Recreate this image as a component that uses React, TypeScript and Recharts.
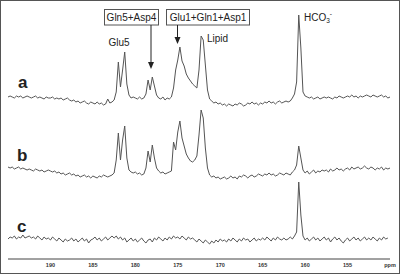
import React from 'react';
import { LineChart, Line, XAxis, YAxis } from 'recharts';

// chemical shift grid: 195 -> 150 ppm, 0.25 ppm per point
const PPM_START = 195;
const PPM_STEP = 0.25;

// spectrum a (intensity, arbitrary units)
const spectrumA = [
  3, 4, 3, 2, 4, 3, 4, 2, 3, 4,
  3, 2, 3, 4, 2, 3, 2, 1, 3, 2,
  2, 3, 1, 2, 1, 2, 0, 1, 2, 0,
  -1, 0, -2, -1, -3, -2, -1, -3, -4, -2,
  -3, -4, -2, -4, -3, -5, -4, 1, -3, -2,
  0, 8, 38, 13, 30, 48, 16, 5, 2, 3,
  2, 1, 3, 1, 2, 6, 20, 10, 23, 14,
  5, 2, 1, 3, 0, 2, 1, 3, 12, 30,
  40, 53, 39, 34, 26, 22, 19, 16, 14, 12,
  30, 64, 60, 35, 10, 1, -1, -3, -2, -4,
  -3, -5, -4, -6, -4, -5, -6, -4, -5, -3,
  -4, -6, -5, -3, -4, -2, -4, -3, -5, -3,
  -4, -2, -3, -1, -3, -2, -4, -2, -1, -3,
  -2, -1, -2, -1, 2, 6, 18, 85, 52, 8,
  4, 3, 2, 3, 1, 2, 3, 1, 2, 3,
  2, 3, 2, 1, 3, 2, 4, 3, 2, 3,
  4, 3, 5, 3, 4, 2, 4, 3, 4, 5,
  4, 3, 5, 4, 3, 4, 5, 3, 4, 2, 3,
];

// spectrum b
const spectrumB = [
  5, 4, 5, 3, 4, 5, 3, 4, 3, 2,
  3, 2, 1, 3, 2, 1, 2, 0, 1, 2,
  1, 0, 1, -1, 0, -2, -1, -3, -2, -1,
  -3, -2, -4, -3, -5, -4, -3, -5, -4, -6,
  -4, -5, -6, -4, -5, -3, -4, -5, -4, -3,
  -1, 12, 39, 12, 32, 46, 14, 2, 0, -1,
  0, -2, -1, -3, -2, 4, 21, 10, 27, 14,
  4, 1, -1, 0, -2, -1, 0, 1, 30, 22,
  40, 51, 34, 26, 18, 14, 11, 10, 12, 16,
  37, 62, 54, 24, 4, -3, -5, -4, -6, -5,
  -7, -6, -5, -7, -6, -4, -6, -5, -7, -4,
  -5, -3, -4, -6, -4, -3, -5, -4, -2, -3,
  -4, -2, -3, -1, -3, -2, -4, -3, -1, -2,
  -3, -1, -2, -3, 0, 2, 7, 26, 14, 2,
  -1, 1, -2, 0, 2, -1, 1, 0, 2, 1,
  2, 0, 3, 1, 2, 4, 2, 3, 1, 3,
  4, 2, 5, 3, 4, 5, 3, 4, 6, 4,
  3, 5, 4, 2, 4, 3, 5, 2, 4, 3, 4,
];

// spectrum c
const spectrumC = [
  0, 2, 1, 3, 0, 2, 1, 4, 1, 2,
  3, 1, 2, 0, 3, 1, -1, 2, 0, 1,
  -1, 2, 0, -2, 1, -1, -3, 0, -2, -1,
  1, -2, 0, -3, -1, 1, -2, 0, -4, -1,
  0, 2, -1, 1, -2, 0, 2, -1, 1, 3,
  1, 3, 0, 2, -1, 1, -3, -1, 1, -2,
  0, -3, -1, 1, -2, -4, -1, 0, -3, 1,
  -1, 2, 0, -2, 1, -1, 2, 0, 3, 1,
  2, 0, 3, 1, -1, 2, 0, 1, -1, -3,
  0, -2, -4, -1, -3, -5, -2, -4, -1, -3,
  0, -2, -1, -3, 0, -2, 1, -1, -3, 0,
  -2, 1, -1, 0, -3, -1, 1, -2, 0, -1,
  1, -1, 2, 0, -2, 1, -1, 2, 0, -1,
  1, -1, 0, 2, 0, 3, 7, 57, 24, 3,
  -1, 1, -2, 0, 2, -1, 1, -2, 0, 2,
  -1, 1, -3, 0, 2, -1, 1, -2, -4, -1,
  1, -2, 0, 2, -1, 1, -2, 0, 2, -1,
  1, -1, 2, 0, -2, 1, -1, 2, 0, 1,
];

const xTicks = [190, 185, 180, 175, 170, 165, 160, 155, 150];

// vertical stacking of the three traces
const OFFSET_A = 159;
const OFFSET_B = 87;
const OFFSET_C = 20;

const data = spectrumA.map((v, i) => ({
  ppm: PPM_START - i * PPM_STEP,
  a: v + OFFSET_A,
  b: spectrumB[i] + OFFSET_B,
  c: spectrumC[i] + OFFSET_C,
}));

const FONT = '"Liberation Sans", Arial, sans-serif';
const LINE = '#555';

const Annotations = () => (
  <svg width={400} height={274} style={{ position: 'absolute', left: 0, top: 0, pointerEvents: 'none' }}
    fontFamily={FONT} fill="#222">
    <rect x={104.5} y={9.5} width={54} height={15.5} fill="#fff" stroke="#555" />
    <text x={131.5} y={21} fontSize={10} textAnchor="middle">Gln5+Asp4</text>
    <rect x={166.5} y={9.5} width={83} height={15.5} fill="#fff" stroke="#555" />
    <text x={208} y={21} fontSize={10} textAnchor="middle">Glu1+Gln1+Asp1</text>

    <line x1={151} y1={25} x2={151} y2={63} stroke="#222" strokeWidth={1} />
    <polygon points="148,62 154,62 151,69" fill="#222" />
    <line x1={177.5} y1={25} x2={177.5} y2={38} stroke="#222" strokeWidth={1} />
    <polygon points="174.5,37 180.5,37 177.5,44" fill="#222" />

    <text x={119} y={46} fontSize={10} textAnchor="middle">Glu5</text>
    <text x={207} y={42} fontSize={10}>Lipid</text>
    <text x={304} y={21} fontSize={10}>
      HCO<tspan fontSize={6.5} dy={2}>3</tspan><tspan fontSize={6.5} dy={-7}>-</tspan>
    </text>

    <text x={18} y={88} fontSize={17} fontWeight="bold">a</text>
    <text x={17} y={161} fontSize={17} fontWeight="bold">b</text>
    <text x={17} y={232} fontSize={17} fontWeight="bold">c</text>
  </svg>
);

export default function App() {
  return (
    <div style={{ position: 'absolute', left: 0, top: 0, width: 400, height: 274, background: '#fff' }}>
      <LineChart width={400} height={274} data={data} margin={{ top: 0, right: 10, bottom: 0, left: 8 }}>
        <XAxis
          dataKey="ppm"
          type="number"
          domain={[150, 195]}
          reversed
          ticks={xTicks}
          height={15}
          axisLine={{ stroke: '#444' }}
          tickLine={false}
          tickSize={3}
          tickMargin={1}
          tick={{ fontSize: 5.5, fill: '#333', fontFamily: FONT, fontWeight: 'bold' }}
          tickFormatter={(v: number) => (v === 150 ? 'ppm' : String(v))}
          interval={0}
        />
        <YAxis hide domain={[0, 259]} />
        <Line type="linear" dataKey="a" stroke={LINE} strokeWidth={1} dot={false} isAnimationActive={false} />
        <Line type="linear" dataKey="b" stroke={LINE} strokeWidth={1} dot={false} isAnimationActive={false} />
        <Line type="linear" dataKey="c" stroke={LINE} strokeWidth={1} dot={false} isAnimationActive={false} />
      </LineChart>
      <Annotations />
      <div style={{ position: 'absolute', left: 0, top: 0, width: 400, height: 274, boxSizing: 'border-box', border: '1px solid #555' }} />
    </div>
  );
}
